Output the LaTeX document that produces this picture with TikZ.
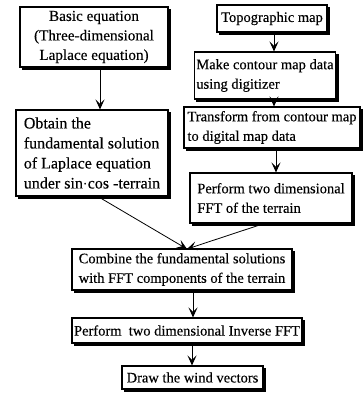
\documentclass[tikz,border=0pt]{standalone}
\usepackage{fontspec}
\setmainfont{Liberation Serif}
\newfontfamily\heavyserif{Liberation Serif}[FakeBold=0.25]
\usetikzlibrary{arrows.meta}
\begin{document}
\begin{tikzpicture}[x=1pt,y=-1pt,
  box/.style={draw=black, line width=1.1pt, fill=white, inner sep=2pt,
    font=\heavyserif\fontsize{14.5}{19.5}\selectfont,
    preaction={draw=black, fill=black, line width=1.1pt,
      transform canvas={xshift=2.4pt, yshift=-2.4pt}}},
  arr/.style={line width=0.8pt, -{Stealth[length=10pt,width=9pt,inset=4.5pt]}}]
\useasboundingbox (0,0) rectangle (363,395);
\node[box, font=\heavyserif\fontsize{15.2}{19.5}\selectfont, minimum width=148pt, minimum height=60pt, align=center] (b1) at (94,37)
  {Basic equation\\(Three-dimensional\\Laplace equation)};
\node[box, font=\heavyserif\fontsize{16}{20}\selectfont, minimum width=152pt, minimum height=86pt, align=left] (b2) at (92,153)
  {Obtain the\\fundamental solution\\of Laplace equation\\under sin$\cdot$cos -terrain};
\node[box, minimum width=110pt, minimum height=27pt] (t1) at (272,18.5) {Topographic map};
\node[box, minimum width=140pt, minimum height=47pt, align=left] (t2) at (265,75.5)
  {Make contour map data\\using digitizer\hspace*{45pt}};
\node[box, minimum width=176pt, minimum height=41pt, align=left] (t3) at (272,127.5)
  {Transform from contour map\\to digital map data};
\node[box, minimum width=162pt, minimum height=50pt, align=left] (t4) at (271,198)
  {Perform two dimensional\\FFT of the terrain};
\node[box, minimum width=220pt, minimum height=41pt, align=center] (c) at (182,269.5)
  {Combine the fundamental solutions\\with FFT components of the terrain};
\node[box, minimum width=230pt, minimum height=25pt] (inv) at (187,330.5)
  {Perform\ \ two dimensional Inverse FFT};
\node[box, minimum width=141pt, minimum height=23pt] (dw) at (192.5,377.5)
  {Draw the wind vectors};
\coordinate (m) at (187,249);
\draw[arr] (b1.south -| 100,0) -- (b2.north -| 100,0);
\draw[arr] (t1.south -| 274,0) -- (t2.north -| 274,0);
\draw[arr] (t2.south -| 274,0) -- (t3.north -| 274,0);
\draw[arr] (t3.south -| 276,0) -- (t4.north -| 276,0);
\draw[arr] (b2.south -| 98,0) -- (m);
\draw[arr] (t4.south -| 264,0) -- (m);
\draw[arr] (c.south -| 193,0) -- (inv.north -| 193,0);
\draw[arr] (inv.south -| 192,0) -- (dw.north -| 192,0);
\end{tikzpicture}
\end{document}
